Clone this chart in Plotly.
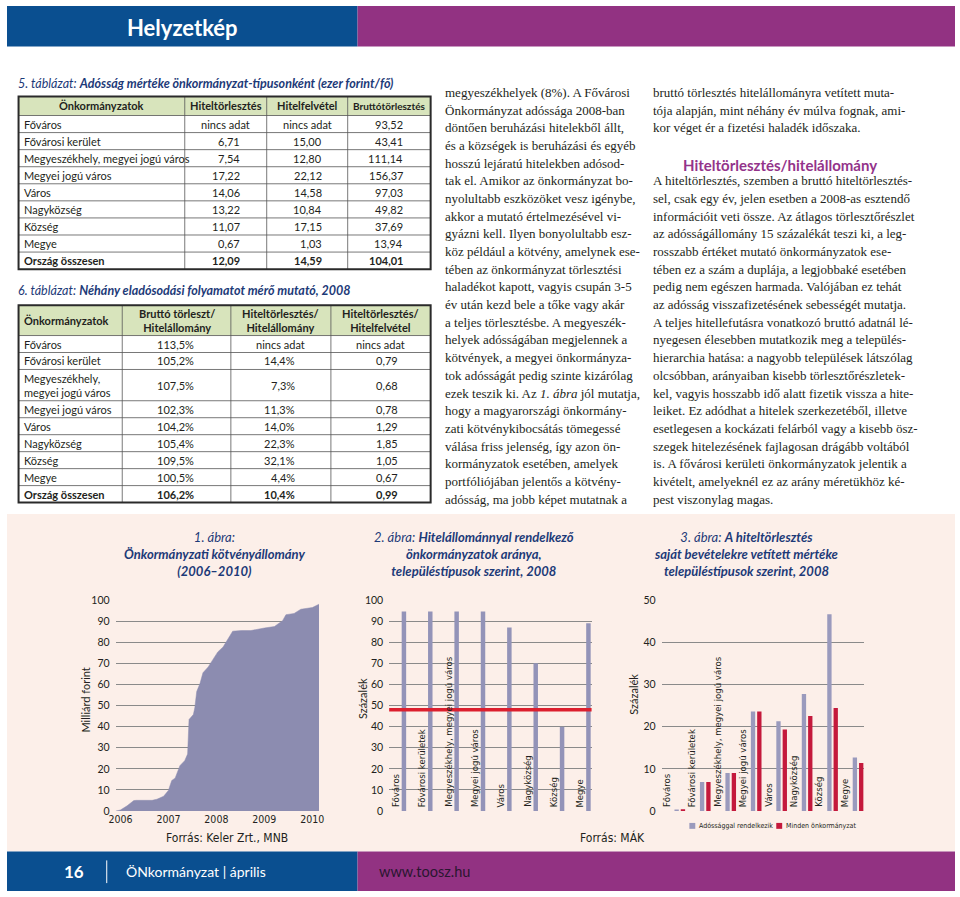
import plotly.graph_objects as go

W, H = 960, 897


def px(x):
    return x / W


def py(y):
    return 1 - y / H


# ---------------- DATA ----------------
# Table 5
t5_headers = ["Önkormányzatok", "Hiteltörlesztés", "Hitelfelvétel", "Bruttótörlesztés"]
t5_types = ["Főváros", "Fővárosi kerület", "Megyeszékhely, megyei jogú város",
            "Megyei jogú város", "Város", "Nagyközség", "Község", "Megye", "Ország összesen"]
t5_repayment = [None, 6.71, 7.54, 17.22, 14.06, 13.22, 11.07, 0.67, 12.09]
t5_borrowing = [None, 15.00, 12.80, 22.12, 14.58, 10.84, 17.15, 1.03, 14.59]
t5_gross_repayment = [93.52, 43.41, 111.14, 156.37, 97.03, 49.82, 37.69, 13.94, 104.01]

# Table 6
t6_headers = ["Önkormányzatok", "Bruttó törleszt/<br>Hitelállomány",
              "Hiteltörlesztés/<br>Hitelállomány", "Hiteltörlesztés/<br>Hitelfelvétel"]
t6_types = ["Főváros", "Fővárosi kerület", "Megyeszékhely,<br>megyei jogú város",
            "Megyei jogú város", "Város", "Nagyközség", "Község", "Megye", "Ország összesen"]
t6_gross_to_stock = [113.5, 105.2, 107.5, 102.3, 104.2, 105.4, 109.5, 100.5, 106.2]
t6_repay_to_stock = [None, 14.4, 7.3, 11.3, 14.0, 22.3, 32.1, 4.4, 10.4]
t6_repay_to_borrow = [None, 0.79, 0.68, 0.78, 1.29, 1.85, 1.05, 0.67, 0.99]

# Figure 1: municipal bond stock (billion HUF)
bond_time = [2005.9, 2006.0, 2006.14, 2006.28, 2006.34, 2006.66, 2006.76, 2006.9, 2007.0,
             2007.07, 2007.14, 2007.24, 2007.34, 2007.4, 2007.43, 2007.52, 2007.55, 2007.59,
             2007.66, 2007.72, 2007.83, 2007.93, 2008.03, 2008.14, 2008.24, 2008.34, 2008.52,
             2008.72, 2009.0, 2009.21, 2009.38, 2009.45, 2009.62, 2009.76, 2010.0, 2010.14]
bond_stock = [0, 0.5, 2.5, 5.0, 5.1, 5.1, 5.6, 7.0, 9.8, 14.5, 15.6, 21.5, 23.9, 27.0, 43.4,
              45.7, 48.8, 56.6, 60.5, 65.5, 68.3, 72.2, 75.4, 77.7, 81.6, 85.2, 85.5, 85.5,
              86.7, 87.4, 90.2, 93.0, 93.6, 95.6, 96.4, 98.0]
bond_ticks = [2006, 2007, 2008, 2009, 2010]

# Figure 2 / 3 categories
settlement_types = ["Főváros", "Fővárosi kerületek", "Megyeszékhely, megyei jogú város",
                    "Megyei jogú város", "Város", "Nagyközség", "Község", "Megye"]
share_with_debt = [94.5, 94.5, 94.5, 94.5, 87.0, 70.0, 40.0, 89.0]
share_average = 48
repay_indebted = [0.4, 6.9, 9.0, 23.6, 21.3, 27.7, 46.6, 12.7]
repay_all = [0.45, 6.9, 9.0, 23.6, 19.3, 22.5, 24.4, 11.4]
fig3_series = ["Adóssággal rendelkezik", "Minden önkormányzat"]

# ---------------- STYLE ----------------
SANS = "Lato, 'Open Sans', sans-serif"
NARROW = "'Liberation Sans Narrow', 'Arial Narrow', 'DejaVu Sans Condensed', Lato, sans-serif"
SERIF = "'Liberation Serif', 'Times New Roman', serif"
BLUE = "#0a4f90"
PURPLE = "#923282"
TITLE_BLUE = "#1d3a78"
HEAD_PURPLE = "#93338a"
PINK = "#fcefe9"
AREA = "#8c8cb0"
BAR2 = "#9393b8"
GRAY3 = "#9a9abd"
RED3 = "#c4193c"
RED_LINE = "#dc1f2e"
GRID = "#8a8a8a"
TXT = "#231f20"

shapes = []
annotations = []


def txt(x, y, text, size=11, color=TXT, family=SANS, xanchor="left", yanchor="middle",
        angle=0, align="left"):
    annotations.append(dict(x=px(x), y=py(y), xref="paper", yref="paper", text=text,
                            showarrow=False, borderpad=0, textangle=angle, align=align,
                            font=dict(size=size, color=color, family=family),
                            xanchor=xanchor, yanchor=yanchor))


def rect(x0, y0, x1, y1, fill=None, line_color=None, line_width=0, layer="below"):
    shapes.append(dict(type="rect", xref="paper", yref="paper", x0=px(x0), x1=px(x1),
                       y0=py(y1), y1=py(y0), fillcolor=fill or "rgba(0,0,0,0)",
                       line=dict(color=line_color or "rgba(0,0,0,0)", width=line_width),
                       layer=layer))


def hline(x0, x1, y, color="#555", width=0.8):
    shapes.append(dict(type="line", xref="paper", yref="paper", x0=px(x0), x1=px(x1),
                       y0=py(y), y1=py(y), line=dict(color=color, width=width)))


def vline(x, y0, y1, color="#555", width=0.8):
    shapes.append(dict(type="line", xref="paper", yref="paper", x0=px(x), x1=px(x),
                       y0=py(y0), y1=py(y1), line=dict(color=color, width=width)))


def hu(v, d):
    return f"{v:.{d}f}".replace(".", ",")


# ---------------- HEADER / FOOTER / BACKGROUNDS ----------------
rect(0, 0, 355, 41, fill=BLUE)
rect(355, 0, 960, 41, fill=PURPLE)
txt(178, 22, "<b>Helyzetkép</b>", size=22, color="white", xanchor="center")

rect(0, 515, 960, 857, fill=PINK)

rect(0, 857, 355, 897, fill=BLUE)
rect(355, 857, 960, 897, fill=PURPLE)
txt(68, 877, "<b>16</b>", size=17, color="white", xanchor="center")
vline(101, 866, 889, color="white", width=1)
txt(119, 877, "ÖNkormányzat | április", size=14, color="white")
txt(376, 877, "www.toosz.hu", size=14.5, color="#2a1630")


# ---------------- TABLES ----------------
def draw_table(col_edges, top, header_h, row_hs, headers, header_align0, columns, pads,
               body_size=11, header_sizes=None):
    left, right = col_edges[0], col_edges[-1]
    bottom = top + header_h + sum(row_hs)
    rect(left, top, right, top + header_h, fill="#d8e4bc", layer="above")
    header_sizes = header_sizes or [11] * len(headers)
    for j, htxt in enumerate(headers):
        if j == 0 and header_align0 == "left":
            txt(col_edges[0] + 5, top + header_h / 2, f"<b>{htxt}</b>", size=header_sizes[j])
        else:
            txt((col_edges[j] + col_edges[j + 1]) / 2, top + header_h / 2, f"<b>{htxt}</b>",
                size=header_sizes[j], xanchor="center", align="center")
    y = top + header_h
    nrows = len(row_hs)
    for i in range(nrows):
        yc = y + row_hs[i] / 2
        bold = i == nrows - 1
        for j, col in enumerate(columns):
            s = col[i]
            if bold:
                s = f"<b>{s}</b>"
            if j == 0:
                txt(col_edges[0] + 5, yc, s, size=body_size)
            elif col[i] == "nincs adat":
                txt((col_edges[j] + col_edges[j + 1]) / 2, yc, s, size=body_size,
                    xanchor="center")
            else:
                txt(col_edges[j + 1] - pads[j - 1], yc, s, size=body_size, xanchor="right")
        y += row_hs[i]
        if i < nrows - 1:
            hline(left, right, y)
    hline(left, right, top + header_h)
    for xe in col_edges[1:-1]:
        vline(xe, top, bottom)
    rect(left, top, right, bottom, line_color="#2a2a2a", line_width=2, layer="above")


def fmt_col(vals, d, suffix=""):
    return ["nincs adat" if v is None else hu(v, d) + suffix for v in vals]


# Table 5
txt(10, 79, "<i>5. táblázat:</i> <b><i>Adósság mértéke önkormányzat-típusonként "
            "(ezer forint/fő)</i></b>", size=12.5, color=TITLE_BLUE)
draw_table([11.7, 180, 263, 345, 429], 91.7, 19.3, [17.3] * len(t5_types), t5_headers,
           "center",
           [t5_types, fmt_col(t5_repayment, 2), fmt_col(t5_borrowing, 2),
            fmt_col(t5_gross_repayment, 2)],
           pads=[26, 25, 27], header_sizes=[11, 11, 11, 10])

# Table 6
txt(10, 288, "<i>6. táblázat:</i> <b><i>Néhány eladósodási folyamatot mérő mutató, "
             "2008</i></b>", size=12.5, color=TITLE_BLUE)
t6_row_h = [17.2 if "<br>" not in t else 31.7 for t in t6_types]
draw_table([11.7, 116.7, 226.7, 328, 429], 303.3, 30.7, t6_row_h, t6_headers, "left",
           [t6_types, fmt_col(t6_gross_to_stock, 1, "%"), fmt_col(t6_repay_to_stock, 1, "%"),
            fmt_col(t6_repay_to_borrow, 2)],
           pads=[36, 35, 32])

# ---------------- BODY TEXT ----------------
mid_lines = [
    "megyeszékhelyek (8%). A Fővárosi",
    "Önkormányzat adóssága 2008-ban",
    "döntően beruházási hitelekből állt,",
    "és a községek is beruházási és egyéb",
    "hosszú lejáratú hitelekben adósod-",
    "tak el. Amikor az önkormányzat bo-",
    "nyolultabb eszközöket vesz igénybe,",
    "akkor a mutató értelmezésével vi-",
    "gyázni kell. Ilyen bonyolultabb esz-",
    "köz például a kötvény, amelynek ese-",
    "tében az önkormányzat törlesztési",
    "haladékot kapott, vagyis csupán 3-5",
    "év után kezd bele a tőke vagy akár",
    "a teljes törlesztésbe. A megyeszék-",
    "helyek adósságában megjelennek a",
    "kötvények, a megyei önkormányza-",
    "tok adósságát pedig szinte kizárólag",
    "ezek teszik ki. Az <i>1. ábra</i> jól mutatja,",
    "hogy a magyarországi önkormány-",
    "zati kötvénykibocsátás tömegessé",
    "válása friss jelenség, így azon ön-",
    "kormányzatok esetében, amelyek",
    "portfóliójában jelentős a kötvény-",
    "adósság, ma jobb képet mutatnak a",
]
right_top = [
    "bruttó törlesztés hitelállományra vetített muta-",
    "tója alapján, mint néhány év múlva fognak, ami-",
    "kor véget ér a fizetési haladék időszaka.",
]
right_body = [
    "A hiteltörlesztés, szemben a bruttó hiteltörlesztés-",
    "sel, csak egy év, jelen esetben a 2008-as esztendő",
    "információit veti össze. Az átlagos törlesztőrészlet",
    "az adósságállomány 15 százalékát teszi ki, a leg-",
    "rosszabb értéket mutató önkormányzatok ese-",
    "tében ez a szám a duplája, a legjobbaké esetében",
    "pedig nem egészen harmada. Valójában ez tehát",
    "az adósság visszafizetésének sebességét mutatja.",
    "A teljes hitellefutásra vonatkozó bruttó adatnál lé-",
    "nyegesen élesebben mutatkozik meg a település-",
    "hierarchia hatása: a nagyobb települések látszólag",
    "olcsóbban, arányaiban kisebb törlesztőrészletek-",
    "kel, vagyis hosszabb idő alatt fizetik vissza a hite-",
    "leiket. Ez adódhat a hitelek szerkezetéből, illetve",
    "esetlegesen a kockázati felárból vagy a kisebb ösz-",
    "szegek hitelezésének fajlagosan drágább voltából",
    "is. A fővárosi kerületi önkormányzatok jelentik a",
    "kivételt, amelyeknél ez az arány méretükhöz ké-",
    "pest viszonylag magas.",
]
LINE0, LSTEP = 87.5, 17.93
for k, line in enumerate(mid_lines):
    txt(443, LINE0 + k * LSTEP, line, size=13, family=SERIF)
for k, line in enumerate(right_top):
    txt(653, LINE0 + k * LSTEP, line, size=13, family=SERIF)
txt(783, 161, "<b>Hiteltörlesztés/hitelállomány</b>", size=15, color=HEAD_PURPLE,
    xanchor="center")
for k, line in enumerate(right_body):
    txt(653, LINE0 + (k + 5) * LSTEP, line, size=13, family=SERIF)

# ---------------- CHARTS ----------------
fig = go.Figure()

fig.add_trace(go.Scatter(x=bond_time, y=bond_stock, mode="lines", fill="tozeroy",
                         fillcolor=AREA, line=dict(color=AREA, width=0.5),
                         xaxis="x", yaxis="y", hoverinfo="skip", showlegend=False))

fig.add_trace(go.Bar(x=settlement_types, y=share_with_debt, width=0.17, offset=-0.085,
                     marker=dict(color=BAR2, line=dict(width=0)),
                     xaxis="x2", yaxis="y2", hoverinfo="skip", showlegend=False))

fig.add_trace(go.Bar(x=settlement_types, y=repay_indebted, width=0.17, offset=-0.209,
                     name=fig3_series[0], marker=dict(color=GRAY3, line=dict(width=0)),
                     xaxis="x3", yaxis="y3", hoverinfo="skip", showlegend=False))
fig.add_trace(go.Bar(x=settlement_types, y=repay_all, width=0.17, offset=0.039,
                     name=fig3_series[1], marker=dict(color=RED3, line=dict(width=0)),
                     xaxis="x3", yaxis="y3", hoverinfo="skip", showlegend=False))

# average line in figure 2
shapes.append(dict(type="line", xref="x2 domain", x0=0, x1=1, yref="y2", y0=share_average,
                   y1=share_average, line=dict(color=RED_LINE, width=3.5), layer="above"))

# category labels inside charts 2 and 3
for cat in settlement_types:
    annotations.append(dict(x=cat, y=0, xref="x2", yref="y2", text=cat, textangle=-90,
                            xanchor="center", yanchor="bottom", xshift=-9, yshift=3,
                            showarrow=False, borderpad=0,
                            font=dict(size=9.5, color=TXT, family=NARROW)))
    annotations.append(dict(x=cat, y=0, xref="x3", yref="y3", text=cat, textangle=-90,
                            xanchor="center", yanchor="bottom", xshift=-14, yshift=3,
                            showarrow=False, borderpad=0,
                            font=dict(size=9.5, color=TXT, family=NARROW)))

# chart titles
txt(210, 555, "<i>1. ábra:</i><br><b><i>Önkormányzati kötvényállomány</i></b><br>"
              "<b><i>(2006–2010)</i></b>", size=13, color=TITLE_BLUE, xanchor="center",
    align="center")
txt(473, 555, "<i>2. ábra:</i> <b><i>Hitelállománnyal rendelkező</i></b><br>"
              "<b><i>önkormányzatok aránya,</i></b><br>"
              "<b><i>településtípusok szerint, 2008</i></b>", size=13, color=TITLE_BLUE,
    xanchor="center", align="center")
txt(748, 555, "<i>3. ábra:</i> <b><i>A hiteltörlesztés</i></b><br>"
              "<b><i>saját bevételekre vetített mértéke</i></b><br>"
              "<b><i>településtípusok szerint, 2008</i></b>", size=13, color=TITLE_BLUE,
    xanchor="center", align="center")

# axis titles
txt(80, 704, "Milliárd forint", size=11, xanchor="center", angle=-90)
txt(360, 702, "Százalék", size=11, xanchor="center", angle=-90)
txt(635, 698, "Százalék", size=11, xanchor="center", angle=-90)

# sources
txt(160, 843, "Forrás: Keler Zrt., MNB", size=12, xanchor="left", family=NARROW)
txt(647, 843, "Forrás: MÁK", size=12, xanchor="right", family=NARROW)

# legend of chart 3
rect(691, 828, 697, 834, fill=GRAY3, layer="above")
txt(700, 831, fig3_series[0], size=7, family=NARROW)
rect(779, 828, 785, 834, fill=RED3, layer="above")
txt(788, 831, fig3_series[1], size=7, family=NARROW)

ydom = [py(816), py(602)]
tickfont = dict(size=10.5, color=TXT, family=SANS)
yaxis_common = dict(showgrid=True, gridcolor=GRID, gridwidth=1, zeroline=False, showline=False,
                    ticks="", tickfont=tickfont, ticklabelstandoff=5, fixedrange=True)

fig.update_layout(
    width=W, height=H, margin=dict(l=0, r=0, t=0, b=0),
    paper_bgcolor="white", plot_bgcolor="rgba(0,0,0,0)",
    showlegend=False, barmode="overlay",
    font=dict(family=SANS, color=TXT),
    xaxis=dict(domain=[px(110), px(316)], range=[2005.9, 2010.14], anchor="y",
               tickvals=bond_ticks, ticktext=[str(t) for t in bond_ticks],
               showgrid=False, zeroline=False, showline=False, ticks="", fixedrange=True,
               tickfont=dict(size=10.5, color=TXT, family=NARROW)),
    yaxis=dict(domain=ydom, range=[0, 100], dtick=10, anchor="x", **yaxis_common),
    xaxis2=dict(domain=[px(387), px(592)], type="category", range=[-0.56, 7.12],
                anchor="y2", showticklabels=False, showgrid=False, zeroline=False,
                showline=False, ticks="", fixedrange=True),
    yaxis2=dict(domain=ydom, range=[0, 100], dtick=10, anchor="x2", **yaxis_common),
    xaxis3=dict(domain=[px(663), px(868)], type="category", range=[-0.71, 7.24],
                anchor="y3", showticklabels=False, showgrid=False, zeroline=False,
                showline=False, ticks="", fixedrange=True),
    yaxis3=dict(domain=ydom, range=[0, 50], dtick=10, anchor="x3", **yaxis_common),
    shapes=shapes,
    annotations=annotations,
)

fig.write_html("out.html", config={"displayModeBar": False},
               post_script="document.body.style.margin='0px';")
